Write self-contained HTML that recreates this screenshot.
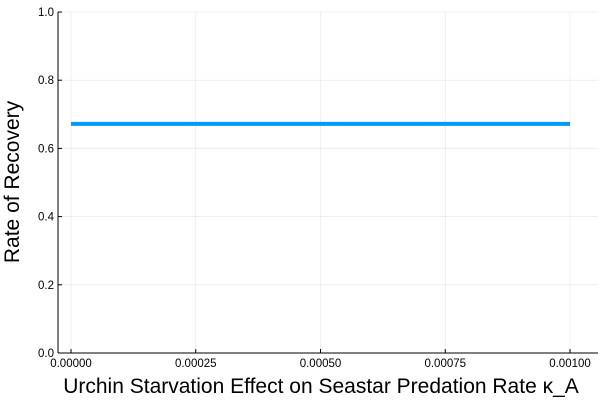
<!DOCTYPE html>
<html><head><meta charset="utf-8"><style>
body{margin:0;background:#fff}
svg{display:block;font-family:"Liberation Sans","DejaVu Sans",sans-serif}
</style></head><body>
<svg width="600" height="400" viewBox="0 0 600 400">
<g id="grid"></g>
<g id="axes"></g>
<g id="series"></g>
<text x="321" y="393" text-anchor="middle" font-size="21" fill="#000">Urchin Starvation Effect on Seastar Predation Rate κ_A</text>
<text transform="translate(19,182) rotate(-90)" text-anchor="middle" font-size="21" fill="#000">Rate of Recovery</text>
</svg>
<script>
const xTicks=[0,0.00025,0.0005,0.00075,0.001];
const xTickLabels=["0.00000","0.00025","0.00050","0.00075","0.00100"];
const yTicks=[0,0.2,0.4,0.6,0.8,1.0];
const yTickLabels=["0.0","0.2","0.4","0.6","0.8","1.0"];
const xValues=[0,0.0001,0.0002,0.0003,0.0004,0.0005,0.0006,0.0007,0.0008,0.0009,0.001];
const yValues=[0.672,0.672,0.672,0.672,0.672,0.672,0.672,0.672,0.672,0.672,0.672];
const ns="http://www.w3.org/2000/svg";
const L=58,R=598,T=12,B=353,X0=71,X1=570;
const sx=v=>X0+(v-0)/(0.001)*(X1-X0);
const sy=v=>B-v*(B-T);
function mk(tag,attrs,parent,txt){const e=document.createElementNS(ns,tag);for(const k in attrs)e.setAttribute(k,attrs[k]);if(txt!==undefined)e.textContent=txt;document.getElementById(parent).appendChild(e);return e;}
xTicks.forEach((t,i)=>{
 const g=mk('line',{x1:sx(t),x2:sx(t),y1:T,y2:B,stroke:'#000','stroke-opacity':0.1,'stroke-width':0.6},'grid');
 
 
 const tk=mk('line',{x1:sx(t),x2:sx(t),y1:B,y2:B-4,stroke:'#000','stroke-width':1},'axes');
 
 
 const lb=mk('text',{x:sx(t),y:B+14,'text-anchor':'middle','font-size':11.5},'axes',xTickLabels[i]);
 
 
});
yTicks.forEach((t,i)=>{
 const g=mk('line',{x1:L,x2:R,y1:sy(t),y2:sy(t),stroke:'#000','stroke-opacity':0.1,'stroke-width':0.6},'grid');
 
 
 const tk=mk('line',{x1:L,x2:L+4,y1:sy(t),y2:sy(t),stroke:'#000','stroke-width':1},'axes');
 
 
 const lb=mk('text',{x:L-4,y:sy(t)+4,'text-anchor':'end','font-size':11.5},'axes',yTickLabels[i]);
 
 
});
const xa=mk('line',{x1:L,x2:R,y1:B,y2:B,stroke:'#000','stroke-width':1},'axes');


const ya=mk('line',{x1:L,x2:L,y1:T,y2:B,stroke:'#000','stroke-width':1},'axes');


const pts=xValues.map((x,i)=>sx(x)+','+sy(yValues[i])).join(' ');
const pl=mk('polyline',{points:pts,fill:'none',stroke:'#009af9','stroke-width':4},'series');


</script>
</body></html>
